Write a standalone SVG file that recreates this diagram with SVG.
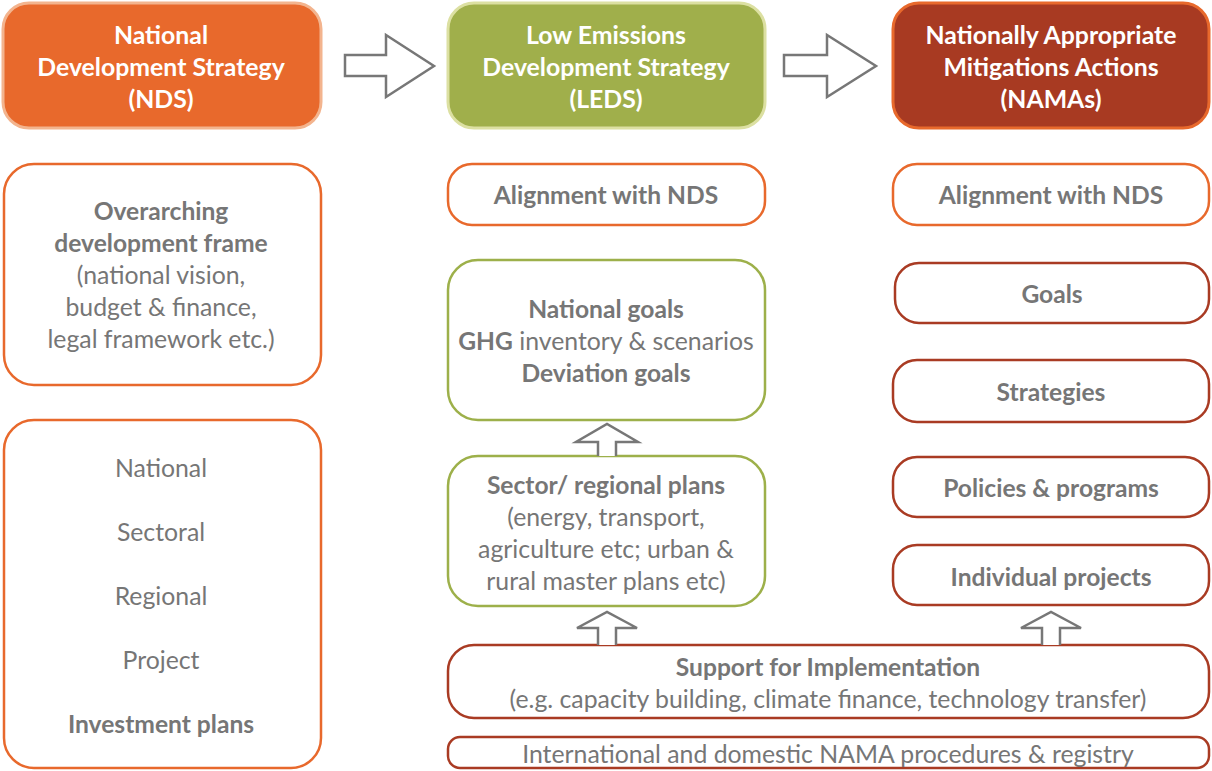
<svg xmlns="http://www.w3.org/2000/svg" width="1212" height="771" viewBox="0 0 1212 771">
  <defs>
    <style>
      text { font-family: Lato, "Open Sans", "Liberation Sans", sans-serif; font-size: 24.8px; text-anchor: middle; fill: #767676; }
      .b { font-weight: bold; font-size: 24.6px; }
      .hd { fill: #ffffff; font-weight: bold; font-size: 24.8px; }
      .box { fill: #ffffff; stroke-width: 2.5; }
      .or { stroke: #E8692C; }
      .gr { stroke: #9DB04A; }
      .rd { stroke: #A93B23; }
      .arrow { fill: #ffffff; stroke: #777777; stroke-width: 2.5; stroke-linejoin: miter; }
    </style>
  </defs>

  <!-- Column headers -->
  <g id="nds-header">
    <rect x="3" y="3" width="318" height="125" rx="26" fill="#E8692C" stroke="#F3B48E" stroke-width="3"/>
    <text class="hd" x="161" y="44">National</text>
    <text class="hd" x="161" y="76">Development Strategy</text>
    <text class="hd" x="161" y="108">(NDS)</text>
  </g>
  <g id="leds-header">
    <rect x="448" y="3" width="317" height="125" rx="26" fill="#A0AF4B" stroke="#DCE0A2" stroke-width="3"/>
    <text class="hd" x="606" y="44">Low Emissions</text>
    <text class="hd" x="606" y="76">Development Strategy</text>
    <text class="hd" x="606" y="108">(LEDS)</text>
  </g>
  <g id="namas-header">
    <rect x="893" y="3" width="316" height="125" rx="26" fill="#A83A22" stroke="#E8692C" stroke-width="3"/>
    <text class="hd" x="1051" y="44">Nationally Appropriate</text>
    <text class="hd" x="1051" y="76">Mitigations Actions</text>
    <text class="hd" x="1051" y="108">(NAMAs)</text>
  </g>

  <!-- NDS column -->
  <g id="nds-frame">
    <rect class="box or" x="4" y="164" width="317" height="221" rx="30"/>
    <text class="b" x="161" y="220">Overarching</text>
    <text class="b" x="161" y="252">development frame</text>
    <text x="161" y="284">(national vision,</text>
    <text x="161" y="316">budget &amp; finance,</text>
    <text x="161" y="348">legal framework etc.)</text>
  </g>
  <g id="nds-plans">
    <rect class="box or" x="4" y="420" width="317" height="348" rx="30"/>
    <text x="161" y="477">National</text>
    <text x="161" y="541">Sectoral</text>
    <text x="161" y="605">Regional</text>
    <text x="161" y="669">Project</text>
    <text class="b" x="161" y="733">Investment plans</text>
  </g>

  <!-- LEDS column -->
  <g id="leds-alignment">
    <rect class="box or" x="448" y="164" width="317" height="61" rx="24"/>
    <text class="b" x="606" y="204">Alignment with NDS</text>
  </g>
  <g id="leds-goals">
    <rect class="box gr" x="448" y="260" width="317" height="160" rx="30"/>
    <text class="b" x="606" y="318">National goals</text>
    <text x="606" y="350"><tspan class="b">GHG</tspan> inventory &amp; scenarios</text>
    <text class="b" x="606" y="382">Deviation goals</text>
  </g>
  <g id="leds-sector">
    <rect class="box gr" x="448" y="456" width="317" height="150" rx="30"/>
    <text class="b" x="606" y="494">Sector/ regional plans</text>
    <text x="606" y="526">(energy, transport,</text>
    <text x="606" y="558">agriculture etc; urban &amp;</text>
    <text x="606" y="590">rural master plans etc)</text>
  </g>

  <!-- NAMA column -->
  <g id="nama-alignment">
    <rect class="box or" x="893" y="164" width="316" height="61" rx="24"/>
    <text class="b" x="1051" y="204">Alignment with NDS</text>
  </g>
  <g id="nama-goals">
    <rect class="box rd" x="895" y="263" width="314" height="60" rx="24"/>
    <text class="b" x="1052" y="303">Goals</text>
  </g>
  <g id="nama-strategies">
    <rect class="box rd" x="893" y="360" width="316" height="62" rx="24"/>
    <text class="b" x="1051" y="401">Strategies</text>
  </g>
  <g id="nama-policies">
    <rect class="box rd" x="893" y="457" width="316" height="60" rx="24"/>
    <text class="b" x="1051" y="497">Policies &amp; programs</text>
  </g>
  <g id="nama-projects">
    <rect class="box rd" x="893" y="545" width="316" height="60" rx="24"/>
    <text class="b" x="1051" y="586">Individual projects</text>
  </g>

  <!-- Shared support layers -->
  <g id="support">
    <rect class="box rd" x="448" y="645" width="761" height="73" rx="26"/>
    <text class="b" x="828" y="676">Support for Implementation</text>
    <text x="828" y="708">(e.g. capacity building, climate finance, technology transfer)</text>
  </g>
  <g id="registry">
    <rect class="box rd" x="448" y="737" width="761" height="31" rx="12"/>
    <text x="828" y="763">International and domestic NAMA procedures &amp; registry</text>
  </g>

  <!-- Block arrows -->
  <g id="connectors">
    <path class="arrow" d="M345,55 H386 V35 L434,66 L386,97 V76 H345 Z"/>
    <path class="arrow" d="M784,55 H827 V35 L876,66 L827,97 V76 H784 Z"/>
    <path class="arrow" d="M598,456 V442 H576 L607,424 L638,442 H616 V456"/>
    <path class="arrow" d="M598,645 V628 H577 L607,612 L637,628 H616 V645"/>
    <path class="arrow" d="M1042,645 V628 H1021 L1051,612 L1081,628 H1060 V645"/>
  </g>
</svg>
